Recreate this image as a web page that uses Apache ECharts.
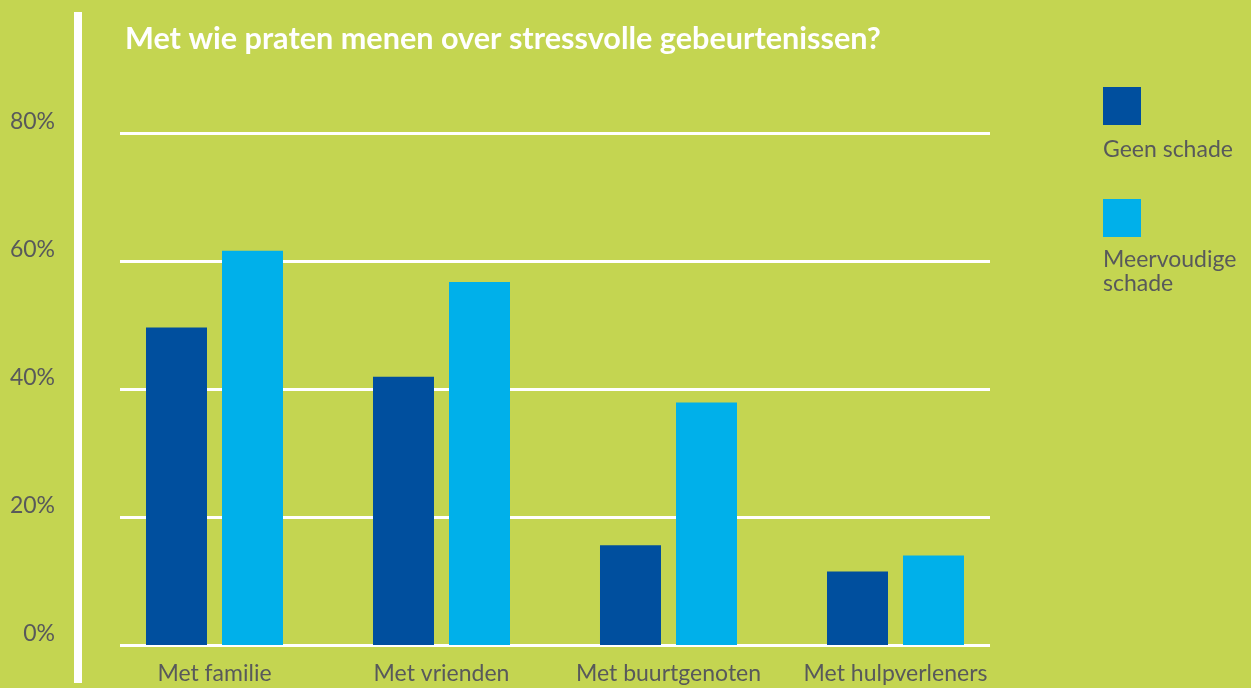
<!DOCTYPE html>
<html>
<head>
<meta charset="utf-8">
<script src="https://cdn.jsdelivr.net/npm/echarts@6/dist/echarts.min.js"></script>
<style>
  html, body { margin: 0; padding: 0; background: #C4D551; }
  #chart { width: 1251px; height: 688px; }
</style>
</head>
<body>
<div id="chart"></div>
<script>
// data
var categories = ["Met familie", "Met vrienden", "Met buurtgenoten", "Met hulpverleners"];
var geenSchade = [49.6, 41.9, 15.6, 11.5];
var meervoudigeSchade = [61.6, 56.7, 37.9, 14.0];
var seriesNames = ["Geen schade", "Meervoudige schade"];
var yTicks = [0, 20, 40, 60, 80];

var FONT = "Lato";
var GREY = "#58595B";
var DARK = "#004F9E";
var LIGHT = "#00B0EA";

var chart = echarts.init(document.getElementById("chart"));

chart.setOption({
  backgroundColor: "#C4D551",
  animation: false,
  title: {
    text: "Met wie praten menen over stressvolle gebeurtenissen?",
    left: 120,
    top: 19,
    textStyle: { color: "#fff", fontFamily: FONT, fontWeight: "bold", fontSize: 30.6 }
  },
  graphic: [
    // white vertical rule at left
    { type: "rect", shape: { x: 74, y: 12, width: 8, height: 671 }, style: { fill: "#fff" } }
  ],
  legend: [
    { data: [{ name: seriesNames[0], icon: "rect" }], left: 1103, top: 87, padding: 0, itemWidth: 38, itemHeight: 38,
      formatter: function () { return ""; }, selectedMode: false },
    { data: [{ name: seriesNames[1], icon: "rect" }], left: 1103, top: 199, padding: 0, itemWidth: 38, itemHeight: 38,
      formatter: function () { return ""; }, selectedMode: false },
    { data: [{ name: seriesNames[0], icon: "none" }], left: 1093, top: 133, itemWidth: 0, selectedMode: false,
      textStyle: { color: GREY, fontFamily: FONT, fontSize: 23 } },
    { data: [{ name: seriesNames[1], icon: "none" }], left: 1093, top: 243, itemWidth: 0, selectedMode: false,
      formatter: function () { return "Meervoudige\nschade"; },
      textStyle: { color: GREY, fontFamily: FONT, fontSize: 23, lineHeight: 24 } }
  ],
  grid: [
    { left: 101, right: 242, top: 133, bottom: 43 },
    { left: 120, right: 261, top: 133, bottom: 43 }
  ],
  xAxis: [
    {
      type: "category",
      gridIndex: 0,
      data: categories,
      axisLine: { show: false },
      axisTick: { show: false },
      axisLabel: { color: GREY, fontFamily: FONT, fontSize: 23, margin: 17, interval: 0 }
    },
    { type: "value", gridIndex: 1, show: false, min: 0, max: 1 }
  ],
  yAxis: [
    {
      type: "value",
      gridIndex: 0,
      min: 0,
      max: yTicks[yTicks.length - 1],
      interval: yTicks[1] - yTicks[0],
      splitLine: { show: false },
      axisLine: { show: false },
      axisTick: { show: false },
      axisLabel: {
        color: GREY, fontFamily: FONT, fontSize: 23, margin: 46,
        verticalAlign: "bottom",
        formatter: "{value}%"
      }
    },
    {
      type: "value",
      gridIndex: 1,
      min: 0,
      max: yTicks[yTicks.length - 1],
      interval: yTicks[1] - yTicks[0],
      axisLabel: { show: false },
      axisLine: { show: false },
      axisTick: { show: false },
      splitLine: { lineStyle: { color: "#fff", width: 3 } }
    }
  ],
  series: [
    {
      name: seriesNames[0],
      type: "bar",
      xAxisIndex: 0,
      yAxisIndex: 0,
      data: geenSchade,
      barWidth: 61,
      barGap: "24.6%",
      itemStyle: { color: DARK }
    },
    {
      name: seriesNames[1],
      type: "bar",
      xAxisIndex: 0,
      yAxisIndex: 0,
      data: meervoudigeSchade,
      barWidth: 61,
      barGap: "24.6%",
      itemStyle: { color: LIGHT }
    }
  ]
});
</script>
</body>
</html>
